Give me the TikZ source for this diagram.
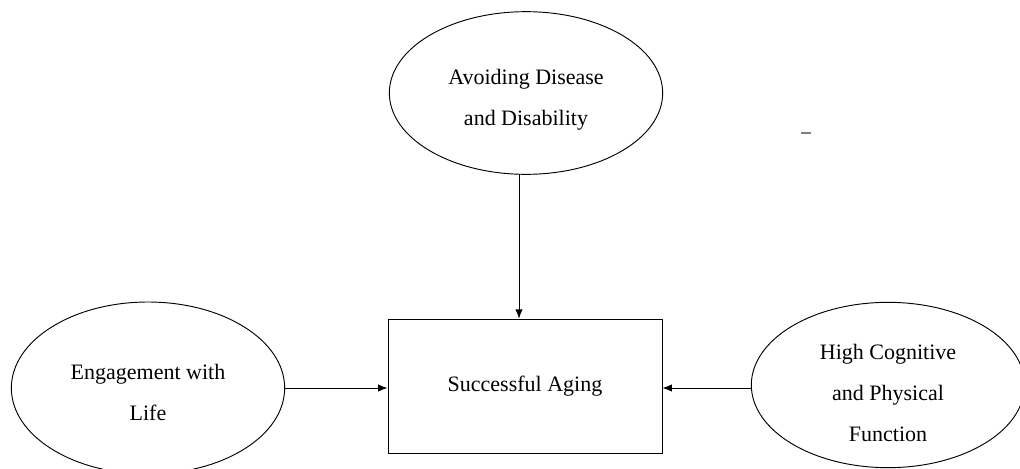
\documentclass[tikz,border=0pt]{standalone}
\usepackage{fontspec}
\setmainfont{Liberation Serif}
\usetikzlibrary{shapes.geometric,arrows.meta}
\begin{document}
\begin{tikzpicture}[x=0.75pt,y=-0.75pt,
  txt/.style={font=\fontsize{16.5}{31}\selectfont, align=center, inner sep=0pt},
  oval/.style={draw, ellipse, line width=0.7pt, minimum width=205pt, minimum height=#1, inner sep=0pt},
  oval/.default=122pt,
  goal/.style={txt, draw, rectangle, line width=0.7pt, minimum width=205.5pt, minimum height=101pt},
  inside/.style={txt, yshift=#1},
  link/.style={line width=0.7pt, -{Latex[length=7pt,width=5.5pt]}}]
\useasboundingbox (0,0) rectangle (1020,468);
\node[oval, label={[inside=-5pt]center:Avoiding Disease\\and Disability}] (avoid) at (526,93) {};
\node[goal] (aging) at (525,386.5) {Successful Aging};
\node[oval=129pt, label={[inside=-3.5pt]center:Engagement with\\Life}] (engage) at (148,388) {};
\node[oval=124pt, label={[inside=-6pt]center:High Cognitive\\and Physical\\Function}] (high) at (888,385) {};
\coordinate (avoidfoot) at (519,174);
\draw[link] (avoidfoot) -- (avoidfoot |- aging.north);
\draw[link] (engage.east |- 0,388) -- (aging.west |- 0,388);
\draw[link] (high.west |- 0,388) -- (aging.east |- 0,388);
\coordinate (tickA) at (801,133);
\coordinate (tickB) at (811,133);
\draw[gray, line width=1.2pt] (tickA) -- (tickB);
\end{tikzpicture}
\end{document}
